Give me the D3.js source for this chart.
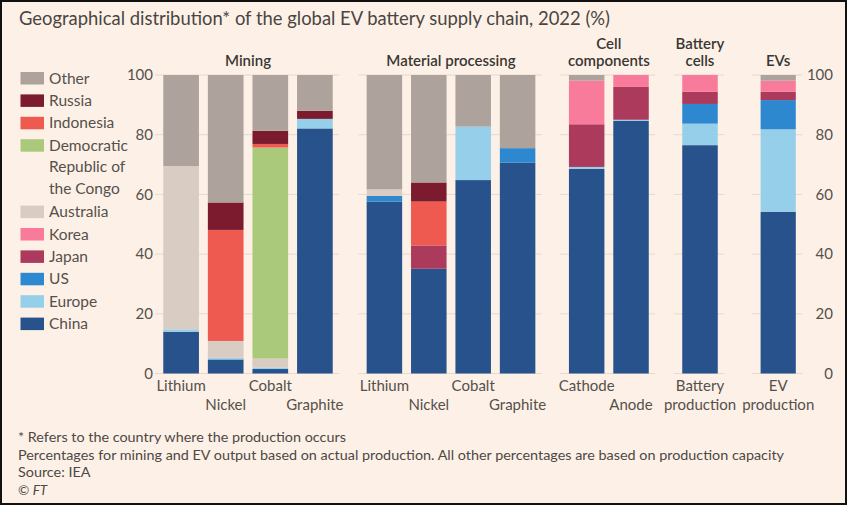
<!DOCTYPE html>
<html>
<head>
<meta charset="utf-8">
<script src="https://cdn.jsdelivr.net/npm/d3@7"></script>
<style>
  html, body { margin: 0; padding: 0; background: #ffffff; }
  svg { display: block; }
  text { font-family: Lato, "Open Sans", sans-serif; }
</style>
</head>
<body>
<svg id="chart" width="848" height="506"></svg>
<script>
// ---------------- DATA ----------------
const stages = ["Mining", "Material processing", "Cell components", "Battery cells", "EVs"];
const stageHeaderLines = [["Mining"], ["Material processing"], ["Cell", "components"], ["Battery", "cells"], ["EVs"]];
const barStage = [0, 0, 0, 0, 1, 1, 1, 1, 2, 2, 3, 4];
const barLabels = [
  ["Lithium"], ["Nickel"], ["Cobalt"], ["Graphite"],
  ["Lithium"], ["Nickel"], ["Cobalt"], ["Graphite"],
  ["Cathode"], ["Anode"], ["Battery", "production"], ["EV", "production"]
];
// stack order, bottom to top
const countries = ["China", "Europe", "US", "Japan", "Korea", "Australia", "DRC", "Indonesia", "Russia", "Other"];
const legendLabels = {
  Other: ["Other"], Russia: ["Russia"], Indonesia: ["Indonesia"],
  DRC: ["Democratic", "Republic of", "the Congo"], Australia: ["Australia"],
  Korea: ["Korea"], Japan: ["Japan"], US: ["US"], Europe: ["Europe"], China: ["China"]
};
const china     = [14.0, 4.7, 1.5, 82.1, 57.6, 35.1, 64.8, 70.6, 68.6, 84.6, 76.5, 54.2];
const europe    = [0.8, 0.6, 0.5, 3.2, 0, 0, 17.9, 0, 0.6, 0.4, 7.2, 27.6];
const us        = [0, 0, 0, 0, 1.9, 0, 0, 4.9, 0, 0, 6.6, 9.8];
const japan     = [0, 0, 0, 0, 0, 7.8, 0, 0, 14.3, 11.0, 4.1, 2.8];
const korea     = [0, 0, 0, 0, 0, 0, 0, 0, 14.6, 4.0, 5.6, 3.7];
const australia = [54.7, 5.6, 3.0, 0, 2.2, 0, 0, 0, 0, 0, 0, 0];
const drc       = [0, 0, 70.7, 0, 0, 0, 0, 0, 0, 0, 0, 0];
const indonesia = [0, 37.2, 1.2, 0, 0, 14.7, 0, 0, 0, 0, 0, 0];
const russia    = [0, 9.2, 4.4, 2.7, 0, 6.4, 0, 0, 0, 0, 0, 0];
const other     = [30.5, 42.7, 18.7, 12.0, 38.3, 36.0, 17.3, 24.5, 1.9, 0, 0, 1.9];
const yTicks = [0, 20, 40, 60, 80, 100];
const title = "Geographical distribution* of the global EV battery supply chain, 2022 (%)";
const notes = [
  "* Refers to the country where the production occurs",
  "Percentages for mining and EV output based on actual production. All other percentages are based on production capacity",
  "Source: IEA"
];

// ---------------- STYLE / LAYOUT ----------------
const colors = {
  China: "#27528b", Europe: "#95cfea", US: "#2e88d0", Japan: "#ab3a5c", Korea: "#f97b9c",
  Australia: "#d8ccc3", DRC: "#abc97b", Indonesia: "#ef5a50", Russia: "#7c1b2d", Other: "#ada39c"
};
const seriesValues = { China: china, Europe: europe, US: us, Japan: japan, Korea: korea,
  Australia: australia, DRC: drc, Indonesia: indonesia, Russia: russia, Other: other };
const groupRanges = [[158.8, 337.2], [362.2, 539.8], [564.5, 653.2], [677.8, 722.2], [756.2, 800.2]];
const bg = "#fdf1e7";
const textCol = "#55504c";
const darkText = "#3a3633";

const svg = d3.select("#chart");
svg.append("rect").attr("x", 1).attr("y", 1).attr("width", 845).attr("height", 503)
  .attr("fill", bg).attr("stroke", "#111").attr("stroke-width", 2);

const y = d3.scaleLinear().domain([0, 100]).range([373.5, 75]);

// rows of the table
const rows = barLabels.map((lab, i) => {
  const r = { idx: i, stage: barStage[i] };
  countries.forEach(c => r[c] = seriesValues[c][i]);
  return r;
});
const stack = d3.stack().keys(countries)(rows);

// per-group band scales
const xScales = stages.map((s, g) => {
  const idxs = rows.filter(r => r.stage === g).map(r => r.idx);
  return d3.scaleBand().domain(idxs).range(groupRanges[g]).paddingInner(0.2).paddingOuter(0.1);
});
const xOf = i => xScales[barStage[i]](i);
const bw = i => xScales[barStage[i]].bandwidth();

// gridlines per group
const gridG = svg.append("g");
stages.forEach((s, g) => {
  const r = groupRanges[g];
  gridG.selectAll(null).data(yTicks).join("line")
    .attr("x1", r[0] - 4).attr("x2", r[1] + 2)
    .attr("y1", d => y(d)).attr("y2", d => y(d))
    .attr("stroke", "#e5d9ce").attr("stroke-width", 1);
});

// bars
const barsG = svg.append("g");
stack.forEach(layer => {
  barsG.append("g").attr("fill", colors[layer.key])
    .selectAll("rect").data(layer.filter(d => d[1] - d[0] > 0)).join("rect")
    .attr("x", d => xOf(d.data.idx))
    .attr("width", d => bw(d.data.idx))
    .attr("y", d => y(d[1]))
    .attr("height", d => y(d[0]) - y(d[1]));
});

// axes labels (left and right)
const axisL = d3.axisLeft(y).tickValues(yTicks).tickSize(0).tickPadding(0);
const gl = svg.append("g").attr("transform", "translate(153,0)").call(axisL);
const axisR = d3.axisRight(y).tickValues(yTicks).tickSize(0).tickPadding(0);
const gr = svg.append("g").attr("transform", "translate(808,0)").call(axisR);
[gl, gr].forEach(g => {
  g.select(".domain").remove();
  g.selectAll("text").attr("fill", textCol).style("font-size", "15px")
    .style("font-family", "Lato, sans-serif");
});
gr.selectAll("text").attr("text-anchor", "end").attr("x", 25);

// x labels: alternate rows
rows.forEach(r => {
  const cx = xOf(r.idx) + bw(r.idx) / 2;
  const lines = barLabels[r.idx];
  let rowStart;
  if (lines.length === 2) rowStart = 0;
  else {
    const inGroup = rows.filter(q => q.stage === r.stage).map(q => q.idx);
    rowStart = inGroup.indexOf(r.idx) % 2;
  }
  lines.forEach((t, k) => {
    svg.append("text").attr("x", cx).attr("y", 391 + 18.5 * (rowStart + k))
      .attr("text-anchor", "middle").attr("fill", textCol).style("font-size", "15px").text(t);
  });
});

// stage headers
stages.forEach((s, g) => {
  const cx = (groupRanges[g][0] + groupRanges[g][1]) / 2;
  const lines = stageHeaderLines[g];
  lines.forEach((t, k) => {
    svg.append("text").attr("x", cx).attr("y", 66 - 17 * (lines.length - 1 - k))
      .attr("text-anchor", "middle").attr("fill", darkText)
      .style("font-size", "15px").style("font-weight", "600").text(t);
  });
});

// legend
const legendOrder = countries.slice().reverse();
let ly = 78.2;
const legG = svg.append("g");
legendOrder.forEach(c => {
  legG.append("rect").attr("x", 20.5).attr("y", ly - 6.2).attr("width", 23.5).attr("height", 12.5)
    .attr("fill", colors[c]);
  legendLabels[c].forEach((t, k) => {
    legG.append("text").attr("x", 49).attr("y", ly + 21.5 * k).attr("dy", "0.35em")
      .attr("fill", textCol).style("font-size", "15.5px").text(t);
  });
  ly += 22.4 * legendLabels[c].length - (legendLabels[c].length > 1 ? 0.8 : 0);
});

// title
const tt = svg.append("text").attr("x", 19).attr("y", 24.5).attr("fill", "#4a4542")
  .style("font-size", "19.5px").text(title);
const tLen = tt.node().getComputedTextLength();
const tTarget = 591;
if (tLen > tTarget) tt.attr("textLength", tTarget).attr("lengthAdjust", "spacingAndGlyphs");
else tt.style("font-size", (19.5 * tTarget / tLen) + "px");

// footnotes
const noteG = svg.append("g");
const noteYs = [442, 459.5, 477, 494.5];
const probe = noteG.append("text").style("font-size", "13px").text(notes[1]);
const nRatio = 766 / probe.node().getComputedTextLength();
probe.remove();
notes.forEach((t, k) => {
  const el = noteG.append("text").attr("x", 18).attr("y", noteYs[k]).attr("fill", "#4d4845")
    .style("font-size", "13.5px").text(t);
  const L = el.node().getComputedTextLength();
  el.attr("textLength", L * nRatio * 13 / 13.5).attr("lengthAdjust", "spacingAndGlyphs");
});
const ft = noteG.append("text").attr("x", 18).attr("y", noteYs[3]).attr("fill", "#4d4845")
  .style("font-size", "13.5px");
ft.append("tspan").text("© ");
ft.append("tspan").style("font-style", "italic").text("FT");
</script>
</body>
</html>
